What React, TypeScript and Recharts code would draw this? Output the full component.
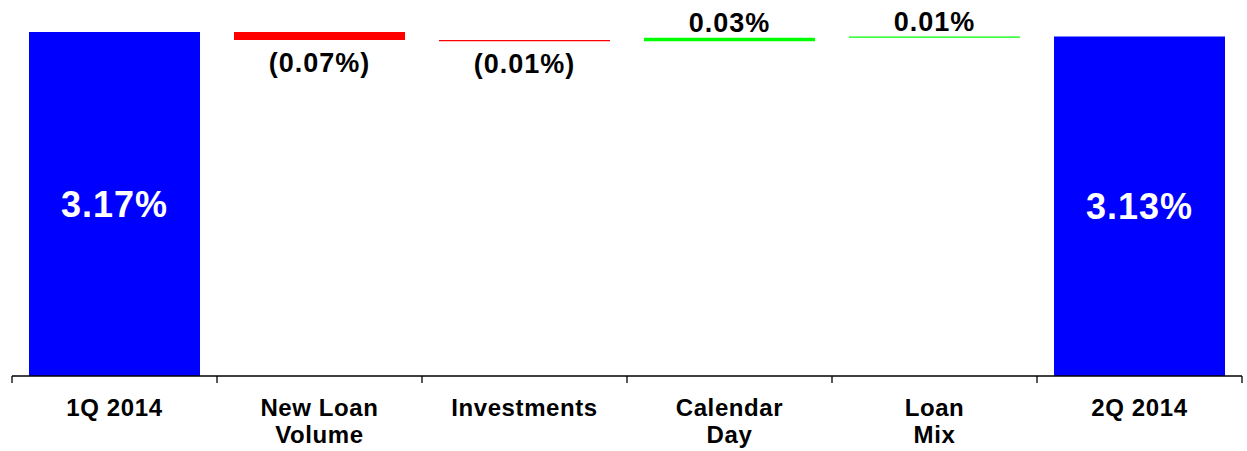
import { BarChart, Bar, XAxis, YAxis, Cell, LabelList } from "recharts"

const categories = ["1Q 2014", "New Loan|Volume", "Investments", "Calendar|Day", "Loan|Mix", "2Q 2014"]
const changes = [3.17, -0.07, -0.01, 0.03, 0.01, 3.13]
const kinds = ["total", "step", "step", "step", "step", "total"]
const edgeTicks = [0, 1, 2, 3, 4, 5, 6]

const AXIS_MIN = 0.2
const AXIS_MAX = 3.2

const BLUE = "#0000FF"
const RED = "#FF0000"
const GREEN = "#00FF00"
const FONT = "'Liberation Sans', Arial, Helvetica, sans-serif"

// running totals -> floating bars for the steps
let running = 0
const data = categories.map((name, i) => {
  const change = changes[i]
  const slot = i + 1 // right edge of this category, for the boundary tick axis
  if (kinds[i] === "total") {
    running = change
    return { name, range: change, change, slot }
  }
  const start = running
  running = +(running + change).toFixed(4)
  return { name, range: [Math.min(start, running), Math.max(start, running)], change, slot }
})

const fmt = (v: number, kind: string) => {
  if (kind === "total") return `${v.toFixed(2)}%`
  return v < 0 ? `(${Math.abs(v).toFixed(2)}%)` : `${v.toFixed(2)}%`
}

const barColor = (i: number) => {
  if (kinds[i] === "total") return BLUE
  return changes[i] < 0 ? RED : GREEN
}

function ValueLabel(props: any) {
  const { x, y, width, height, index } = props
  const i = index ?? 0
  const v = changes[i]
  const kind = kinds[i]
  const cx = x + width / 2
  if (kind === "total") {
    return (
      <text x={cx} y={y + height / 2 + 13} textAnchor="middle" fill="#fff"
        fontFamily={FONT} fontWeight="bold" fontSize={36} letterSpacing={1}>
        {fmt(v, kind)}
      </text>
    )
  }
  const ty = v < 0 ? y + height + 32 : y - 6
  return (
    <text x={cx} y={ty} textAnchor="middle" fill="#000"
      fontFamily={FONT} fontWeight="bold" fontSize={27} letterSpacing={1}>
      {fmt(v, kind)}
    </text>
  )
}

function CategoryTick(props: any) {
  const { x, y, payload } = props
  const lines = String(payload.value).split("|")
  return (
    <g>
      {lines.map((line, k) => (
        <text key={k} x={x} y={y + 38.5 + k * 27.5} textAnchor="middle" fill="#000"
          fontFamily={FONT} fontWeight="bold" fontSize={24} letterSpacing={0.6}>
          {line}
        </text>
      ))}
    </g>
  )
}

const EmptyTick = () => <g />

export default function App() {
  return (
    <div style={{ position: "absolute", left: 0, top: 0, background: "#fff" }}>
      <BarChart width={1247} height={451} data={data}
        margin={{ top: 28.5, right: 5, bottom: 0, left: 12 }}>
        <YAxis hide type="number" domain={[AXIS_MIN, AXIS_MAX]} allowDataOverflow />
        <XAxis xAxisId="a" type="number" dataKey="slot" scale="linear" domain={[0, 6]}
          ticks={edgeTicks} interval={0} height={1} tick={<EmptyTick />} tickSize={7} allowDataOverflow
          axisLine={{ stroke: "#000", strokeWidth: 1.3 }} tickLine={{ stroke: "#000", strokeWidth: 1.3 }} />
        <XAxis xAxisId="b" dataKey="name" height={74} interval={0}
          axisLine={false} tickLine={false} tickSize={0} tickMargin={0} tick={<CategoryTick />} />
        <Bar xAxisId="b" dataKey="range" barSize={171} isAnimationActive={false}>
          {data.map((_, i) => (
            <Cell key={`cell-${i}`} fill={barColor(i)} />
          ))}
          <LabelList dataKey="change" content={<ValueLabel />} />
        </Bar>
      </BarChart>
    </div>
  )
}
